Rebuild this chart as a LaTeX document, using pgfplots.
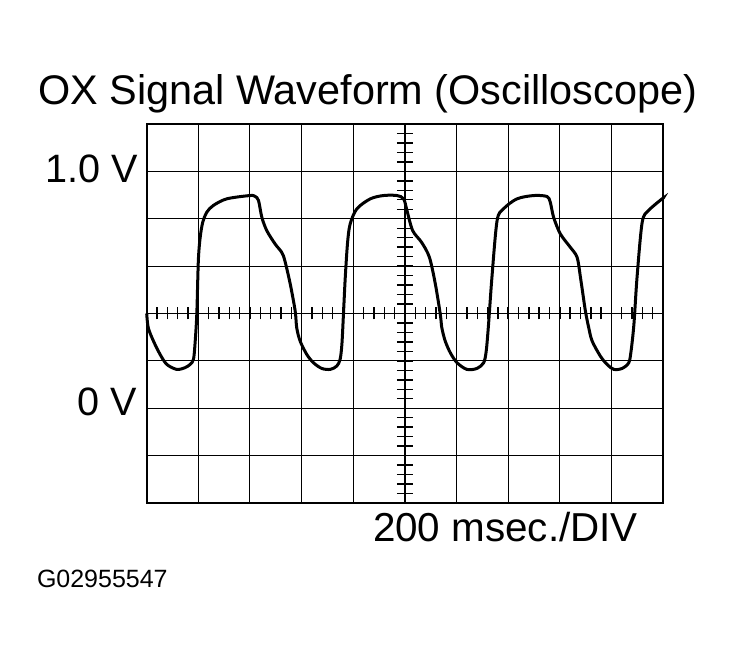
\documentclass[border=0pt]{standalone}
\usepackage{pgfplots}
\pgfplotsset{compat=1.18}
\usepackage{fontspec}
\setmainfont{Liberation Sans}

% OX sensor trace, time in msec, signal in V
\pgfplotstableread{
t v
0 0.40
6 0.34
26 0.284
52 0.227
78 0.185
116 0.164
148 0.171
168 0.185
181 0.206
187 0.27
194 0.397
200 0.623
207 0.72
217 0.785
233 0.828
258 0.856
310 0.884
400 0.898
420 0.894
433 0.877
446 0.806
465 0.75
497 0.694
523 0.658
535 0.623
556 0.524
575 0.411
581 0.34
594 0.284
620 0.227
646 0.192
678 0.168
711 0.164
736 0.178
749 0.206
756 0.27
762 0.397
769 0.552
778 0.70
788 0.778
814 0.842
866 0.884
917 0.898
969 0.898
995 0.884
1008 0.835
1030 0.75
1065 0.70
1095 0.637
1118 0.524
1137 0.397
1143 0.34
1156 0.284
1176 0.234
1202 0.192
1240 0.164
1279 0.168
1305 0.192
1315 0.242
1324 0.355
1337 0.552
1357 0.792
1382 0.842
1434 0.884
1499 0.898
1550 0.894
1563 0.87
1576 0.806
1602 0.736
1641 0.679
1667 0.637
1680 0.552
1699 0.411
1712 0.34
1725 0.284
1757 0.22
1783 0.185
1809 0.164
1841 0.168
1867 0.192
1876 0.242
1887 0.355
1899 0.552
1919 0.785
1944 0.835
1996 0.884
2000 0.886
}\oxdata

\begin{document}
\begin{tikzpicture}
  \useasboundingbox (0,0) rectangle (367pt,332pt);
  \begin{axis}[
      at={(73.35pt,80.5pt)}, anchor=south west,
      scale only axis,
      width=258.2pt, height=189.5pt,
      xmin=0, xmax=2000, ymin=-0.4, ymax=1.2,
      xtick={0,200,...,2000},
      ytick={-0.4,-0.2,...,1.2},
      xticklabels={}, yticklabels={},
      major tick length=0pt,
      grid=major,
      major grid style={black, line width=0.5pt},
      axis line style={black, line width=1.1pt},
      clip=false,
    ]
    % centre cross with its fine divisions
    \draw[line width=0.6pt] (axis cs:0,0.4) -- (axis cs:2000,0.4);
    \draw[line width=1.1pt] (axis cs:1000,-0.4) -- (axis cs:1000,1.2);
    \pgfplotsinvokeforeach{1,...,49}{
      \draw[line width=0.7pt] ([yshift=-3pt]axis cs:{#1*40},0.4) -- ([yshift=3pt]axis cs:{#1*40},0.4);
    }
    \pgfplotsinvokeforeach{1,...,39}{
      \draw[line width=0.7pt] ([xshift=-4pt]axis cs:1000,{-0.4+#1*0.04}) -- ([xshift=4pt]axis cs:1000,{-0.4+#1*0.04});
    }
    \addplot[black, line width=1.5pt, smooth, tension=0.5] table[x=t, y=v] {\oxdata};
  \end{axis}
  \node[anchor=base west, font=\fontsize{20.7pt}{24pt}\selectfont, inner sep=0pt]
    at (19pt,279.5pt) {OX Signal Waveform (Oscilloscope)};
  \node[anchor=base east, font=\fontsize{19.8pt}{23pt}\selectfont, inner sep=0pt]
    at (69pt,240.6pt) {1.0 V};
  \node[anchor=base east, font=\fontsize{19.8pt}{23pt}\selectfont, inner sep=0pt]
    at (68.5pt,124pt) {0 V};
  \node[anchor=base west, font=\fontsize{20.2pt}{24pt}\selectfont, inner sep=0pt]
    at (186.3pt,61.2pt) {200 msec./DIV};
  \node[anchor=base west, font=\fontsize{12.5pt}{15pt}\selectfont, inner sep=0pt]
    at (18.3pt,38pt) {G02955547};
\end{tikzpicture}
\end{document}
